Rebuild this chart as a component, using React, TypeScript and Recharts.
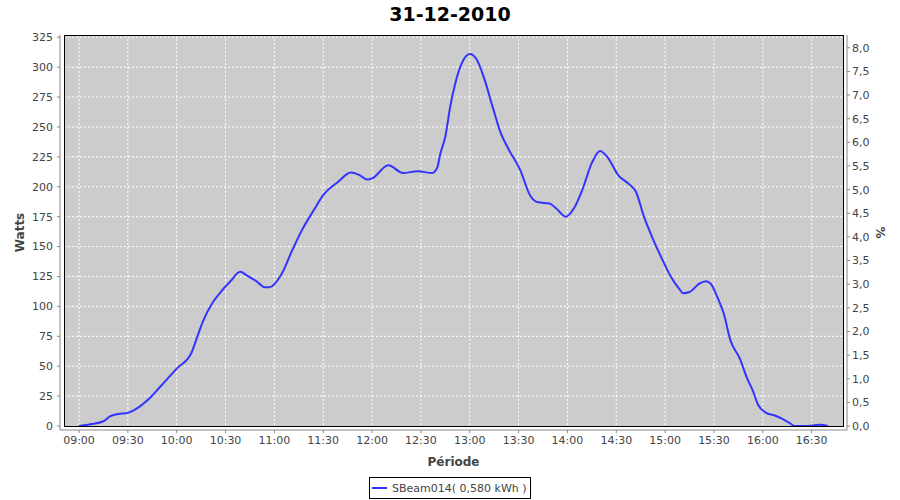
import React from 'react';
import { LineChart, Line, XAxis, YAxis, CartesianGrid, Legend } from 'recharts';

// time of each reading and the power in watts
const times = [
    '09:00', '09:07', '09:15', '09:19', '09:24', '09:30', '09:37', '09:44', '09:50', '10:00',
    '10:09', '10:13', '10:16', '10:22', '10:27', '10:33', '10:39', '10:43', '10:49', '10:54',
    '10:57', '11:04', '11:11', '11:17', '11:24', '11:30', '11:39', '11:47', '11:52', '11:57',
    '12:00', '12:10', '12:19', '12:28', '12:37', '12:40', '12:42', '12:45', '12:48', '12:51',
    '12:55', '13:00', '13:04', '13:09', '13:14', '13:19', '13:24', '13:31', '13:37', '13:42',
    '13:49', '13:53', '13:59', '14:04', '14:09', '14:15', '14:20', '14:25', '14:31', '14:38',
    '14:42', '14:47', '14:52', '14:58', '15:03', '15:09', '15:11', '15:15', '15:21', '15:25',
    '15:28', '15:32', '15:36', '15:40', '15:46', '15:50', '15:54', '15:57', '16:02', '16:07',
    '16:12', '16:18', '16:19', '16:26', '16:35', '16:40'
];
const watts = [
    0, 1.5, 4, 8, 10, 11, 16, 24, 33, 48,
    61, 76, 87, 103, 112, 121, 129, 126, 121, 116,
    116, 126, 147, 164, 180, 193, 204, 212, 210, 206,
    207, 218, 211.5, 213, 211.5, 216, 228, 242, 267, 286,
    303, 311, 307, 290, 267, 245, 231, 214, 193, 187,
    186, 182, 175, 182, 197, 220, 230, 224, 210, 202,
    196, 175, 158, 140, 126, 114, 111, 112, 119, 121,
    119, 108, 94, 72, 56, 41, 29, 18, 11, 9,
    6, 1, 0, 0, 1, 0
];

const timeTicks = [0, 30, 60, 90, 120, 150, 180, 210, 240, 270, 300, 330, 360, 390, 420, 450];
const wattTicks = [0, 25, 50, 75, 100, 125, 150, 175, 200, 225, 250, 275, 300, 325];
const pctTicks = [0, 0.5, 1, 1.5, 2, 2.5, 3, 3.5, 4, 4.5, 5, 5.5, 6, 6.5, 7, 7.5, 8];

const START = 9 * 60;
const toMinutes = (t: string) => {
    const [h, m] = t.split(':').map(Number);
    return h * 60 + m - START;
};
const toClock = (m: number) => {
    const t = START + m;
    const hh = String(Math.floor(t / 60)).padStart(2, '0');
    const mm = String(t % 60).padStart(2, '0');
    return `${hh}:${mm}`;
};

const data = times.map((t, i) => ({ m: toMinutes(t), w: watts[i] }));

const font = '"DejaVu Sans", sans-serif';
const tickStyle = { fontSize: 11, fill: '#444', fontFamily: font };
const axisColor = '#888';

function LegendBox() {
    return (
        <div style={{
            boxSizing: 'border-box', width: 162, height: 22, border: '1px solid #000',
            display: 'flex', alignItems: 'center', fontFamily: font, fontSize: 11, color: '#444', background: '#fff'
        }}>
            <span style={{ display: 'inline-block', width: 15, height: 2, background: '#3333FF', margin: '0 5px 0 2px' }} />
            <span>SBeam014( 0,580 kWh )</span>
        </div>
    );
}

export default function App() {
    return (
        <div style={{ position: 'absolute', left: 0, top: 0, width: 900, height: 500, background: '#fff' }}>
            <div style={{
                position: 'absolute', left: 0, top: 0, width: 900, height: 28, lineHeight: '28px',
                textAlign: 'center', fontFamily: font, fontWeight: 'bold', fontSize: 19, color: '#000'
            }}>
                31-12-2010
            </div>
            <div style={{ position: 'absolute', left: 64, top: 35, width: 780, height: 392, background: '#CCCCCC' }} />
            <div style={{ position: 'absolute', left: 0, top: 0 }}>
                <LineChart width={900} height={500} data={data} margin={{ top: 35, right: 0, bottom: 30, left: 0 }}>
                    <CartesianGrid
                        yAxisId="left"
                        stroke="#fff"
                        strokeDasharray="2 2"
                        horizontalValues={wattTicks.filter(v => v > 0)}
                        verticalValues={timeTicks}
                    />
                    <XAxis
                        dataKey="m"
                        type="number"
                        domain={[-11.67, 471.7]}
                        allowDataOverflow
                        ticks={timeTicks}
                        tickFormatter={toClock}
                        tick={tickStyle}
                        tickSize={3}
                        tickMargin={3}
                        stroke={axisColor}
                        height={40}
                        label={{ value: 'Période', position: 'insideBottom', offset: 4, style: { fontSize: 12, fontWeight: 'bold', fill: '#444', fontFamily: font } }}
                    />
                    <YAxis
                        yAxisId="left"
                        type="number"
                        domain={[-3.34, 326.9]}
                        allowDataOverflow
                        ticks={wattTicks}
                        tick={tickStyle}
                        tickSize={3}
                        tickMargin={4}
                        stroke={axisColor}
                        width={60}
                        label={{ value: 'Watts', angle: -90, position: 'insideLeft', offset: 20, style: { textAnchor: 'middle', fontSize: 12, fontWeight: 'bold', fill: '#444', fontFamily: font } }}
                    />
                    <YAxis
                        yAxisId="right"
                        orientation="right"
                        type="number"
                        domain={[-0.0846, 8.27]}
                        allowDataOverflow
                        ticks={pctTicks}
                        tickFormatter={(v: number) => v.toFixed(1).replace('.', ',')}
                        tick={tickStyle}
                        tickSize={3}
                        tickMargin={2}
                        stroke={axisColor}
                        width={53}
                        label={{ value: '%', angle: 90, position: 'insideRight', offset: 20, style: { textAnchor: 'middle', fontSize: 12, fontWeight: 'bold', fill: '#444', fontFamily: font } }}
                    />
                    <Legend
                        layout="horizontal"
                        verticalAlign="middle"
                        align="center"
                        content={() => <LegendBox />}
                        wrapperStyle={{ left: 369, top: 477, width: 162, height: 22 }}
                    />
                    <Line
                        yAxisId="left"
                        type="monotone"
                        dataKey="w"
                        stroke="#3333FF"
                        strokeWidth={2}
                        dot={false}
                        isAnimationActive={false}
                    />
                </LineChart>
            </div>
            <div style={{
                position: 'absolute', left: 64, top: 35, width: 780, height: 392, boxSizing: 'border-box',
                border: '1px solid #000', pointerEvents: 'none'
            }} />
        </div>
    );
}
